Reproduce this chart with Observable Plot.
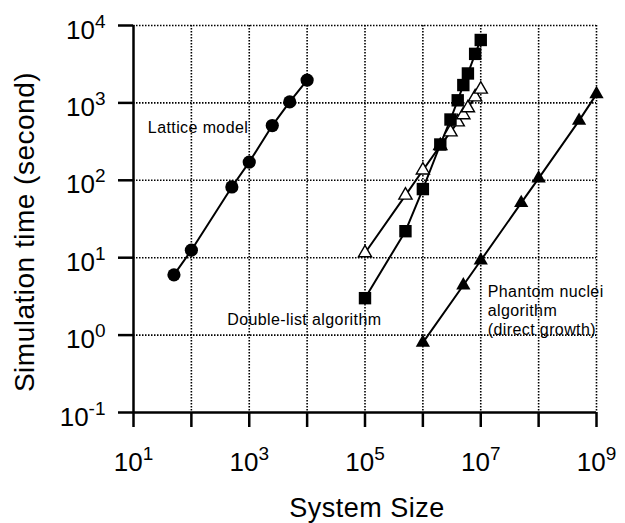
<!DOCTYPE html>
<html>
<head>
<meta charset="utf-8">
<script src="https://cdn.jsdelivr.net/npm/d3@7"></script>
<script src="https://cdn.jsdelivr.net/npm/@observablehq/plot@0.6"></script>
<style>
  body { margin: 0; background: #fff; }
  text.annot { letter-spacing: 0.4px; }
  text.atitle { letter-spacing: 0.5px; }
</style>
</head>
<body>
<div id="chart"></div>
<script>
// ---- data ----
const latticeN = [50, 100, 500, 1000, 2500, 5000, 10000];
const latticeT = [6, 12.5, 82, 172, 510, 1030, 1970];

const doubleListN = [1e5, 5e5, 1e6, 2e6, 3e6, 4e6, 5e6, 6e6, 8e6, 1e7];
const doubleListT = [3, 22, 77, 290, 610, 1080, 1700, 2400, 4300, 6500];

const doubleListOpenN = [1e5, 5e5, 1e6, 2e6, 3e6, 4e6, 5e6, 6e6, 8e6, 1e7];
const doubleListOpenT = [11.5, 64, 135, 280, 420, 565, 700, 860, 1190, 1500];

const phantomN = [1e6, 5e6, 1e7, 5e7, 1e8, 5e8, 1e9];
const phantomT = [0.8, 4.4, 9.2, 51, 106, 590, 1300];

const xTickValues = [1e1, 1e2, 1e3, 1e4, 1e5, 1e6, 1e7, 1e8, 1e9];
const xLabelValues = [1e1, 1e3, 1e5, 1e7, 1e9];
const xGridValues = [1e2, 1e3, 1e4, 1e5, 1e6, 1e7, 1e8, 1e9];
const yTickValues = [1e-1, 1e0, 1e1, 1e2, 1e3, 1e4];
const yGridValues = [1e0, 1e1, 1e2, 1e3, 1e4];

const annotationLabels = ["Lattice model", "Double-list algorithm", "Phantom nuclei\nalgorithm\n(direct growth)"];
const annotationX = [17.7, 416, 1.32e7];
const annotationY = [407, 1.34, 1.0];

const xTitle = "System Size";
const yTitle = "Simulation time (second)";

// ---- build tables ----
const rows = (n, t) => n.map((d, i) => ({n: d, t: t[i]}));
const lattice = rows(latticeN, latticeT);
const dbl = rows(doubleListN, doubleListT);
const dblOpen = rows(doubleListOpenN, doubleListOpenT);
const phantom = rows(phantomN, phantomT);
const annotations = annotationLabels.map((l, i) => ({label: l, x: annotationX[i], y: annotationY[i]}));
const expLabel = d => "10^" + Math.round(Math.log10(d));

const FONT = "'Liberation Sans', Arial, Helvetica, sans-serif";
const gridStyle = {stroke: "black", strokeOpacity: 1, strokeWidth: 1.6, strokeDasharray: "1.5,1.5"};

const chart = Plot.plot({
  width: 625,
  height: 523,
  marginLeft: 133,
  marginRight: 29,
  marginTop: 25,
  marginBottom: 111,
  style: {fontFamily: FONT, background: "white", color: "black"},
  x: {type: "log", domain: [10, 1e9]},
  y: {type: "log", domain: [0.1, 1e4]},
  marks: [
    Plot.gridX(xGridValues, gridStyle),
    Plot.gridY(yGridValues, gridStyle),
    Plot.axisX({ticks: xTickValues, tickSize: 15, tickFormat: () => "", strokeWidth: 2.5, label: null}),
    Plot.axisY({ticks: yTickValues, tickSize: 15, tickFormat: () => "", strokeWidth: 2.5, label: null}),
    Plot.ruleX([10], {stroke: "black", strokeWidth: 2.5}),
    Plot.ruleY([0.1], {stroke: "black", strokeWidth: 2.5}),
    // series lines
    Plot.line(lattice, {x: "n", y: "t", stroke: "black", strokeWidth: 2}),
    Plot.line(dbl, {x: "n", y: "t", stroke: "black", strokeWidth: 2}),
    Plot.line(dblOpen, {x: "n", y: "t", stroke: "black", strokeWidth: 2}),
    Plot.line(phantom, {x: "n", y: "t", stroke: "black", strokeWidth: 2}),
    // markers
    Plot.dot(lattice, {x: "n", y: "t", symbol: "circle", r: 6.6, fill: "black", stroke: "none"}),
    Plot.dot(dblOpen, {x: "n", y: "t", symbol: "triangle", r: 4.9, fill: "white", stroke: "black", strokeWidth: 1.4}),
    Plot.dot(dbl, {x: "n", y: "t", symbol: "square", r: 7, fill: "black", stroke: "none"}),
    Plot.dot(phantom, {x: "n", y: "t", symbol: "triangle", r: 5.3, fill: "black", stroke: "none"}),
    // tick labels
    Plot.text(xLabelValues, {x: d => d, text: expLabel, frameAnchor: "bottom", dy: 58.5, lineAnchor: "bottom",
      textAnchor: "middle", fontSize: 26, fill: "black"}),
    Plot.text(yTickValues, {y: d => d, text: expLabel, frameAnchor: "left", dx: -28, dy: 13, lineAnchor: "bottom",
      textAnchor: "end", fontSize: 26, fill: "black"}),
    // axis titles
    Plot.text([xTitle], {text: d => d, frameAnchor: "bottom", dx: 2, dy: 104.5, lineAnchor: "bottom",
      textAnchor: "middle", fontSize: 27, fill: "black"}),
    Plot.text([yTitle], {text: d => d, frameAnchor: "left", dx: -108, dy: 13, rotate: -90, lineAnchor: "middle",
      textAnchor: "middle", fontSize: 28, fill: "black"}),
    // annotations
    Plot.text(annotations, {x: "x", y: "y", text: "label", textAnchor: "start", lineAnchor: "bottom",
      fontSize: 16, lineHeight: 1.19, fill: "black"})
  ]
});

// post-process text: superscript exponents, letter spacing
d3.select(chart).selectAll("text").each(function () {
  const s = this.textContent;
  if (/^10\^-?\d+$/.test(s)) {
    const parts = s.split("^");
    this.textContent = parts[0];
    d3.select(this).append("tspan").attr("dy", -11).attr("font-size", 19).text(parts[1]);
  } else if (s === xTitle || s === yTitle) {
    this.setAttribute("class", "atitle");
  } else if (s.length > 0) {
    this.setAttribute("class", "annot");
  }
});

document.getElementById("chart").appendChild(chart);
</script>
</body>
</html>
